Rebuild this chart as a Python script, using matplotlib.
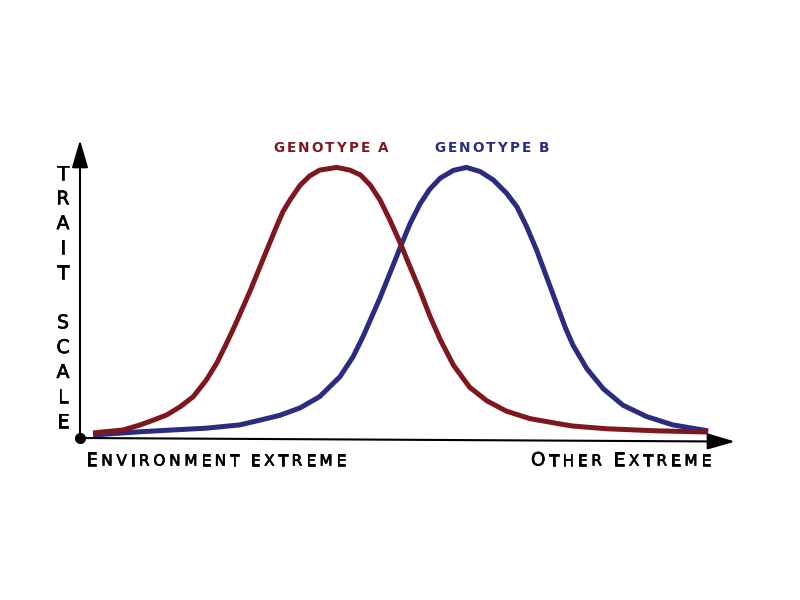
import matplotlib
matplotlib.use("Agg")
import matplotlib.pyplot as plt
import matplotlib.patheffects as pe

# Environment position (0 = one extreme, 100 = the other) and trait value (0..1)
env_a = [2.0, 6.6, 9.2, 11.2, 13.2, 15.3, 17.3, 19.3, 20.9, 22.4, 23.7, 26.0,
         28.6, 30.0, 31.0, 32.1, 33.6, 35.1, 36.6, 39.2, 41.2, 42.8, 44.3, 45.8,
         47.3, 48.9, 49.9, 51.9, 53.4, 55.0, 57.0, 59.5, 62.1, 65.1, 68.7, 73.3,
         75.3, 80.4, 88.1, 95.9]
trait_a = [0.017, 0.027, 0.044, 0.060, 0.077, 0.105, 0.139, 0.195, 0.252, 0.319,
           0.380, 0.495, 0.635, 0.710, 0.760, 0.800, 0.848, 0.880, 0.899, 0.908,
           0.899, 0.883, 0.849, 0.799, 0.732, 0.654, 0.600, 0.495, 0.410, 0.330,
           0.245, 0.170, 0.125, 0.090, 0.065, 0.047, 0.040, 0.031, 0.024, 0.020]

env_b = [2.0, 9.2, 14.2, 19.3, 24.4, 27.5, 30.5, 33.6, 36.6, 39.7, 41.7, 43.2,
         45.8, 48.9, 50.4, 51.9, 53.4, 55.0, 57.0, 59.0, 61.1, 63.1, 65.1, 66.7,
         68.2, 69.7, 71.8, 74.1, 75.3, 77.4, 79.9, 82.9, 86.5, 90.5, 95.9]
trait_b = [0.010, 0.021, 0.027, 0.033, 0.044, 0.060, 0.076, 0.101, 0.139, 0.206,
           0.273, 0.340, 0.470, 0.640, 0.720, 0.785, 0.835, 0.872, 0.898, 0.908,
           0.894, 0.866, 0.822, 0.776, 0.709, 0.631, 0.507, 0.370, 0.310, 0.232,
           0.165, 0.110, 0.072, 0.044, 0.024]

series_names = ["GENOTYPE A", "GENOTYPE B"]
series_colors = ["#7e1820", "#2b2b80"]
y_label = "TRAIT SCALE"
x_left_label = "Environment extreme"
x_right_label = "Other Extreme"

fig = plt.figure(figsize=(8, 6), dpi=100)
fig.patch.set_facecolor("white")

# Plot area
ax = fig.add_axes([80 / 800, 1 - 438 / 600, 655 / 800, 298 / 600])
ax.set_xlim(0, 100)
ax.set_ylim(0, 1)
ax.axis("off")

ax.plot(env_a, trait_a, color=series_colors[0], lw=3.6, solid_capstyle="butt",
        solid_joinstyle="round", zorder=3)
ax.plot(env_b, trait_b, color=series_colors[1], lw=3.6, solid_capstyle="butt",
        solid_joinstyle="round", zorder=2)

arrow_style = dict(arrowstyle="-|>,head_length=1.7,head_width=0.5",
                   mutation_scale=10, color="black", lw=1.5,
                   shrinkA=0, shrinkB=0)
ax.annotate("", xy=(0, 1.0), xytext=(0, 0), arrowprops=arrow_style,
            annotation_clip=False)
ax.annotate("", xy=(100, -0.012), xytext=(0, 0), arrowprops=arrow_style,
            annotation_clip=False)
ax.plot([0], [0], "o", color="black", ms=7, clip_on=False, zorder=5)

# Text overlay in pixel units
tx = fig.add_axes([0, 0, 1, 1], facecolor="none")
tx.set_xlim(0, 800)
tx.set_ylim(600, 0)
tx.axis("off")
renderer = fig.canvas.get_renderer()


def heavy(color, width):
    return [pe.withStroke(linewidth=width, foreground=color)] if width else None


def spaced_text(chars, sizes, x0, x1, y, color="black", weight="normal",
                stroke=0.5):
    """Place characters one by one so the run spans x0..x1 with even tracking."""
    items = []
    for ch, sz in zip(chars, sizes):
        t = tx.text(0, y, ch, fontsize=sz, color=color, fontweight=weight,
                    family="DejaVu Sans", va="baseline", ha="left",
                    path_effects=heavy(color, stroke))
        w = t.get_window_extent(renderer).width if ch != " " else sz * 0.35
        items.append((t, w))
    total = sum(w for _, w in items)
    gap = (x1 - x0 - total) / max(len(items) - 1, 1)
    x = x0
    for t, w in items:
        t.set_x(x)
        x += w + gap


def small_caps(text, x0, x1, y, big=13.2, small=11.0):
    sizes = [big if c.isupper() else small for c in text]
    spaced_text(text.upper(), sizes, x0, x1, y)


spaced_text(series_names[0], [9.8] * len(series_names[0]), 273, 388, 152.5,
            color=series_colors[0], weight="bold", stroke=0)
spaced_text(series_names[1], [9.8] * len(series_names[1]), 434, 549, 152.5,
            color=series_colors[1], weight="bold", stroke=0)

small_caps(x_left_label, 86, 346, 465.5)
small_caps(x_right_label, 531, 711, 465.5)

for i, ch in enumerate(y_label):
    tx.text(63, 174 + i * 24.8, ch, fontsize=13.5, ha="center", va="center",
            family="DejaVu Sans", color="black",
            path_effects=heavy("black", 0.5))

fig.savefig("out.png", dpi=100, facecolor="white")
